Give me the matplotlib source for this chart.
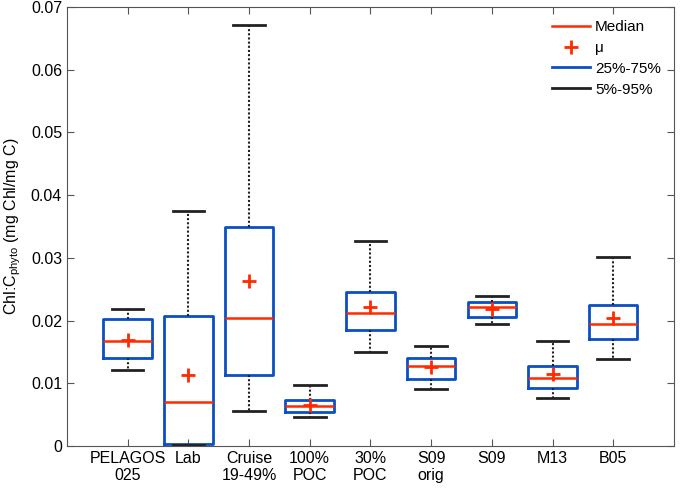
import matplotlib
matplotlib.use("Agg")
import matplotlib.pyplot as plt
from matplotlib.lines import Line2D

plt.rcParams['font.family'] = ['Liberation Sans', 'DejaVu Sans']
plt.rcParams['mathtext.fontset'] = 'custom'
plt.rcParams['mathtext.rm'] = 'Liberation Sans'

labels = ["PELAGOS\n025", "Lab", "Cruise\n19-49%", "100%\nPOC", "30%\nPOC",
          "S09\norig", "S09", "M13", "B05"]
p5 = [0.0122, 0.0002, 0.0056, 0.0046, 0.0150, 0.0091, 0.0195, 0.0077, 0.0139]
p25 = [0.0141, 0.0004, 0.0114, 0.0055, 0.0185, 0.0107, 0.0206, 0.0093, 0.0170]
medians = [0.0168, 0.0070, 0.0204, 0.0064, 0.0212, 0.0128, 0.0221, 0.0108, 0.0195]
p75 = [0.0202, 0.0207, 0.0350, 0.0073, 0.0245, 0.0141, 0.0229, 0.0127, 0.0225]
p95 = [0.0218, 0.0374, 0.0671, 0.0098, 0.0327, 0.0159, 0.0240, 0.0168, 0.0302]
means = [0.0169, 0.0113, 0.0263, 0.0065, 0.0222, 0.0126, 0.0219, 0.0115, 0.0204]

red = "#ff2a00"
blue = "#0a4fc4"
black = "#222222"

stats = []
for i in range(len(labels)):
    stats.append({"whislo": p5[i], "q1": p25[i], "med": medians[i], "q3": p75[i],
                  "whishi": p95[i], "mean": means[i], "fliers": []})

fig = plt.figure(figsize=(6.8, 4.91), dpi=100)
ax = fig.add_axes([0.0985, 0.0916, 0.8925, 0.894])

ax.bxp(stats, positions=range(1, 10), widths=0.8, showmeans=True,
       showfliers=False,
       boxprops=dict(color=blue, linewidth=2),
       medianprops=dict(color=red, linewidth=1.8),
       whiskerprops=dict(color=black, linewidth=1.5, linestyle=(0, (1, 1))),
       capprops=dict(color=black, linewidth=2),
       meanprops=dict(marker="+", markeredgecolor=red, markersize=10,
                      markeredgewidth=2, linestyle="none"),
       capwidths=0.52)

ax.set_xlim(0, 10)
ax.set_ylim(0, 0.07)
ax.set_xticks(range(1, 10))
ax.set_xticklabels(labels, fontsize=11.5)
ax.set_yticks([0, 0.01, 0.02, 0.03, 0.04, 0.05, 0.06, 0.07])
ax.set_yticklabels(["0", "0.01", "0.02", "0.03", "0.04", "0.05", "0.06", "0.07"], fontsize=11.5)
ax.tick_params(direction="in", top=True, right=True, length=5, color="#555555")
for s in ax.spines.values():
    s.set_color("#555555")
ax.set_ylabel("Chl:C$_{\\mathrm{phyto}}$ (mg Chl/mg C)", fontsize=11.5, labelpad=6)

handles = [Line2D([], [], color=red, linewidth=1.8),
           Line2D([], [], color=red, marker="+", markersize=10, markeredgewidth=2, linestyle="none"),
           Line2D([], [], color=blue, linewidth=2),
           Line2D([], [], color=black, linewidth=2)]
ax.legend(handles, ["Median", "\u03bc", "25%-75%", "5%-95%"], loc="upper right",
          frameon=False, fontsize=11, handlelength=2.5, handletextpad=0.3,
          labelspacing=0.45, borderaxespad=0.45)

fig.savefig("out.png", dpi=100)
